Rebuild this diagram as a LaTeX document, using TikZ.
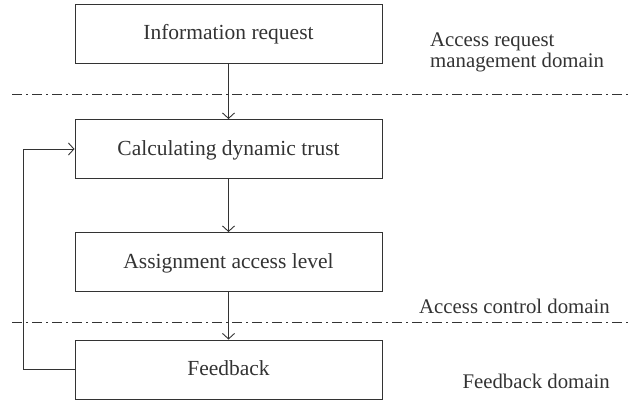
\documentclass[tikz,border=0pt]{standalone}
\usepackage{fontspec}
\setmainfont{Liberation Serif}
\usetikzlibrary{arrows.meta}
\definecolor{ink}{HTML}{333333}
\tikzset{
  x=1pt, y=-1pt,
  stepbox/.style={draw=ink, line width=0.9pt, minimum width=307pt, minimum height=59pt,
    inner sep=0pt, text height=15pt, text depth=2.5pt, text=ink,
    font=\fontsize{21.5}{24}\selectfont},
  flow/.style={draw=ink, line width=0.9pt, -{Straight Barb[length=5.5pt,width=12pt,line width=0.9pt]}},
  domainline/.style={draw=ink, line width=0.8pt, dash pattern=on 10pt off 4pt on 2pt off 4pt},
  domainlabel/.style={text=ink, font=\fontsize{20.8}{21}\selectfont, inner sep=0pt}
}
\begin{document}
\begin{tikzpicture}
  \useasboundingbox (0,0) rectangle (631,402);
  % process steps
  \node[stepbox] (req)  at (228.5,33.5)  {Information request};
  \node[stepbox] (calc) at (228.5,149)   {Calculating dynamic trust};
  \node[stepbox] (assign) at (228.5,262) {Assignment access level};
  \node[stepbox] (fb)   at (228.5,369.5) {Feedback};
  % domain borders
  \coordinate (b1l) at (12,94);  \coordinate (b1r) at (631,94);
  \coordinate (b2l) at (12,322); \coordinate (b2r) at (631,322);
  \draw[domainline] (b1l) -- (b1r);
  \draw[domainline] (b2l) -- (b2r);
  % flow
  \draw[flow] (req) -- (calc);
  \draw[flow] (calc) -- (assign);
  \draw[flow] (assign) -- (fb);
  \coordinate (loop) at (23,0);
  \draw[flow] (fb.west) -| (loop |- fb.west) |- (calc.west);
  % domain names
  \node[domainlabel, anchor=base west, align=left] (d1) at (430,67)
    {Access request\\management domain};
  \node[domainlabel, anchor=base east] (d2) at (610,313) {Access control domain};
  \node[domainlabel, anchor=base east] (d3) at (610,388) {Feedback domain};
\end{tikzpicture}
\end{document}
